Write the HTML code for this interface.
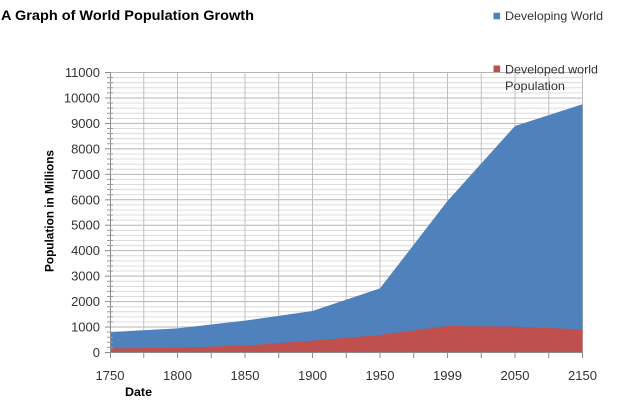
<!DOCTYPE html>
<html><head><meta charset="utf-8"><style>
html,body{margin:0;padding:0;background:#fff;}
svg{display:block;}
text{font-family:"Liberation Sans",sans-serif;}
</style></head><body>
<svg width="618" height="400" viewBox="0 0 618 400" xmlns="http://www.w3.org/2000/svg">
<rect width="618" height="400" fill="#fff"/>
<text x="1" y="20" font-size="14" font-weight="bold" fill="#000" textLength="253" lengthAdjust="spacingAndGlyphs">A Graph of World Population Growth</text>
<g id="minor" stroke="#dcdcdc" stroke-width="1">
<line x1="110" x2="582.5" y1="347.41" y2="347.41"/><line x1="110" x2="582.5" y1="342.32" y2="342.32"/><line x1="110" x2="582.5" y1="337.23" y2="337.23"/><line x1="110" x2="582.5" y1="332.14" y2="332.14"/>
<line x1="110" x2="582.5" y1="321.96" y2="321.96"/><line x1="110" x2="582.5" y1="316.87" y2="316.87"/><line x1="110" x2="582.5" y1="311.78" y2="311.78"/><line x1="110" x2="582.5" y1="306.69" y2="306.69"/>
<line x1="110" x2="582.5" y1="296.50" y2="296.50"/><line x1="110" x2="582.5" y1="291.41" y2="291.41"/><line x1="110" x2="582.5" y1="286.32" y2="286.32"/><line x1="110" x2="582.5" y1="281.23" y2="281.23"/>
<line x1="110" x2="582.5" y1="271.05" y2="271.05"/><line x1="110" x2="582.5" y1="265.96" y2="265.96"/><line x1="110" x2="582.5" y1="260.87" y2="260.87"/><line x1="110" x2="582.5" y1="255.78" y2="255.78"/>
<line x1="110" x2="582.5" y1="245.59" y2="245.59"/><line x1="110" x2="582.5" y1="240.50" y2="240.50"/><line x1="110" x2="582.5" y1="235.41" y2="235.41"/><line x1="110" x2="582.5" y1="230.32" y2="230.32"/>
<line x1="110" x2="582.5" y1="220.14" y2="220.14"/><line x1="110" x2="582.5" y1="215.05" y2="215.05"/><line x1="110" x2="582.5" y1="209.96" y2="209.96"/><line x1="110" x2="582.5" y1="204.87" y2="204.87"/>
<line x1="110" x2="582.5" y1="194.68" y2="194.68"/><line x1="110" x2="582.5" y1="189.59" y2="189.59"/><line x1="110" x2="582.5" y1="184.50" y2="184.50"/><line x1="110" x2="582.5" y1="179.41" y2="179.41"/>
<line x1="110" x2="582.5" y1="169.23" y2="169.23"/><line x1="110" x2="582.5" y1="164.14" y2="164.14"/><line x1="110" x2="582.5" y1="159.05" y2="159.05"/><line x1="110" x2="582.5" y1="153.96" y2="153.96"/>
<line x1="110" x2="582.5" y1="143.77" y2="143.77"/><line x1="110" x2="582.5" y1="138.68" y2="138.68"/><line x1="110" x2="582.5" y1="133.59" y2="133.59"/><line x1="110" x2="582.5" y1="128.50" y2="128.50"/>
<line x1="110" x2="582.5" y1="118.32" y2="118.32"/><line x1="110" x2="582.5" y1="113.23" y2="113.23"/><line x1="110" x2="582.5" y1="108.14" y2="108.14"/><line x1="110" x2="582.5" y1="103.05" y2="103.05"/>
<line x1="110" x2="582.5" y1="92.86" y2="92.86"/><line x1="110" x2="582.5" y1="87.77" y2="87.77"/><line x1="110" x2="582.5" y1="82.68" y2="82.68"/><line x1="110" x2="582.5" y1="77.59" y2="77.59"/>
</g>
<g stroke="#b4b4b4" stroke-width="1">
<line x1="110" x2="582.5" y1="327.05" y2="327.05"/><line x1="110" x2="582.5" y1="301.59" y2="301.59"/><line x1="110" x2="582.5" y1="276.14" y2="276.14"/><line x1="110" x2="582.5" y1="250.68" y2="250.68"/><line x1="110" x2="582.5" y1="225.23" y2="225.23"/><line x1="110" x2="582.5" y1="199.77" y2="199.77"/><line x1="110" x2="582.5" y1="174.32" y2="174.32"/><line x1="110" x2="582.5" y1="148.86" y2="148.86"/><line x1="110" x2="582.5" y1="123.41" y2="123.41"/><line x1="110" x2="582.5" y1="97.95" y2="97.95"/><line x1="110" x2="582.5" y1="72.5" y2="72.5"/>
</g>
<g stroke="#c0c0c0" stroke-width="1">
<line x1="143.75" x2="143.75" y1="72.5" y2="352.5"/><line x1="177.5" x2="177.5" y1="72.5" y2="352.5"/><line x1="211.25" x2="211.25" y1="72.5" y2="352.5"/><line x1="245" x2="245" y1="72.5" y2="352.5"/><line x1="278.75" x2="278.75" y1="72.5" y2="352.5"/><line x1="312.5" x2="312.5" y1="72.5" y2="352.5"/><line x1="346.25" x2="346.25" y1="72.5" y2="352.5"/><line x1="380" x2="380" y1="72.5" y2="352.5"/><line x1="413.75" x2="413.75" y1="72.5" y2="352.5"/><line x1="447.5" x2="447.5" y1="72.5" y2="352.5"/><line x1="481.25" x2="481.25" y1="72.5" y2="352.5"/><line x1="515" x2="515" y1="72.5" y2="352.5"/><line x1="548.75" x2="548.75" y1="72.5" y2="352.5"/><line x1="582.5" x2="582.5" y1="72.5" y2="352.5"/>
</g>
<polygon fill="#4f81bd" points="110,332.14 177.5,328.32 245,320.68 312.5,311.01 380,288.35 447.5,201.04 515,125.95 582.5,104.31 582.5,352.5 110,352.5"/>
<polygon fill="#c0504d" points="110,348.43 177.5,347.66 245,345.63 312.5,340.66 380,334.94 447.5,326.03 515,326.66 582.5,329.34 582.5,352.5 110,352.5"/>
<g stroke="#8c8c8c" stroke-width="1">
<line x1="110.5" x2="110.5" y1="72" y2="353"/>
<line x1="110" x2="583" y1="352.5" y2="352.5"/>
</g>
<g stroke="#9a9a9a" stroke-width="1">
<line x1="107" x2="113" y1="347.41" y2="347.41"/><line x1="107" x2="113" y1="342.32" y2="342.32"/><line x1="107" x2="113" y1="337.23" y2="337.23"/><line x1="107" x2="113" y1="332.14" y2="332.14"/>
<line x1="107" x2="113" y1="321.96" y2="321.96"/><line x1="107" x2="113" y1="316.87" y2="316.87"/><line x1="107" x2="113" y1="311.78" y2="311.78"/><line x1="107" x2="113" y1="306.69" y2="306.69"/>
<line x1="107" x2="113" y1="296.50" y2="296.50"/><line x1="107" x2="113" y1="291.41" y2="291.41"/><line x1="107" x2="113" y1="286.32" y2="286.32"/><line x1="107" x2="113" y1="281.23" y2="281.23"/>
<line x1="107" x2="113" y1="271.05" y2="271.05"/><line x1="107" x2="113" y1="265.96" y2="265.96"/><line x1="107" x2="113" y1="260.87" y2="260.87"/><line x1="107" x2="113" y1="255.78" y2="255.78"/>
<line x1="107" x2="113" y1="245.59" y2="245.59"/><line x1="107" x2="113" y1="240.50" y2="240.50"/><line x1="107" x2="113" y1="235.41" y2="235.41"/><line x1="107" x2="113" y1="230.32" y2="230.32"/>
<line x1="107" x2="113" y1="220.14" y2="220.14"/><line x1="107" x2="113" y1="215.05" y2="215.05"/><line x1="107" x2="113" y1="209.96" y2="209.96"/><line x1="107" x2="113" y1="204.87" y2="204.87"/>
<line x1="107" x2="113" y1="194.68" y2="194.68"/><line x1="107" x2="113" y1="189.59" y2="189.59"/><line x1="107" x2="113" y1="184.50" y2="184.50"/><line x1="107" x2="113" y1="179.41" y2="179.41"/>
<line x1="107" x2="113" y1="169.23" y2="169.23"/><line x1="107" x2="113" y1="164.14" y2="164.14"/><line x1="107" x2="113" y1="159.05" y2="159.05"/><line x1="107" x2="113" y1="153.96" y2="153.96"/>
<line x1="107" x2="113" y1="143.77" y2="143.77"/><line x1="107" x2="113" y1="138.68" y2="138.68"/><line x1="107" x2="113" y1="133.59" y2="133.59"/><line x1="107" x2="113" y1="128.50" y2="128.50"/>
<line x1="107" x2="113" y1="118.32" y2="118.32"/><line x1="107" x2="113" y1="113.23" y2="113.23"/><line x1="107" x2="113" y1="108.14" y2="108.14"/><line x1="107" x2="113" y1="103.05" y2="103.05"/>
<line x1="107" x2="113" y1="92.86" y2="92.86"/><line x1="107" x2="113" y1="87.77" y2="87.77"/><line x1="107" x2="113" y1="82.68" y2="82.68"/><line x1="107" x2="113" y1="77.59" y2="77.59"/>
</g>
<g stroke="#8c8c8c" stroke-width="1">
<line x1="105" x2="110" y1="352.5" y2="352.5"/><line x1="105" x2="110" y1="327.05" y2="327.05"/><line x1="105" x2="110" y1="301.59" y2="301.59"/><line x1="105" x2="110" y1="276.14" y2="276.14"/><line x1="105" x2="110" y1="250.68" y2="250.68"/><line x1="105" x2="110" y1="225.23" y2="225.23"/><line x1="105" x2="110" y1="199.77" y2="199.77"/><line x1="105" x2="110" y1="174.32" y2="174.32"/><line x1="105" x2="110" y1="148.86" y2="148.86"/><line x1="105" x2="110" y1="123.41" y2="123.41"/><line x1="105" x2="110" y1="97.95" y2="97.95"/><line x1="105" x2="110" y1="72.5" y2="72.5"/>
<line x1="110.5" x2="110.5" y1="352.5" y2="358"/><line x1="143.75" x2="143.75" y1="352.5" y2="358"/><line x1="177.5" x2="177.5" y1="352.5" y2="358"/><line x1="211.25" x2="211.25" y1="352.5" y2="358"/><line x1="245" x2="245" y1="352.5" y2="358"/><line x1="278.75" x2="278.75" y1="352.5" y2="358"/><line x1="312.5" x2="312.5" y1="352.5" y2="358"/><line x1="346.25" x2="346.25" y1="352.5" y2="358"/><line x1="380" x2="380" y1="352.5" y2="358"/><line x1="413.75" x2="413.75" y1="352.5" y2="358"/><line x1="447.5" x2="447.5" y1="352.5" y2="358"/><line x1="481.25" x2="481.25" y1="352.5" y2="358"/><line x1="515" x2="515" y1="352.5" y2="358"/><line x1="548.75" x2="548.75" y1="352.5" y2="358"/><line x1="582.5" x2="582.5" y1="352.5" y2="358"/>
</g>
<g font-size="13" fill="#333" text-anchor="end">
<text x="100" y="357">0</text><text x="100" y="331.5">1000</text><text x="100" y="306">2000</text><text x="100" y="280.6">3000</text><text x="100" y="255.2">4000</text><text x="100" y="229.7">5000</text><text x="100" y="204.3">6000</text><text x="100" y="178.8">7000</text><text x="100" y="153.4">8000</text><text x="100" y="127.9">9000</text><text x="100" y="102.5">10000</text><text x="100" y="77">11000</text>
</g>
<g font-size="13" fill="#333" text-anchor="middle">
<text x="110" y="380">1750</text><text x="177.5" y="380">1800</text><text x="245" y="380">1850</text><text x="312.5" y="380">1900</text><text x="380" y="380">1950</text><text x="447.5" y="380">1999</text><text x="515" y="380">2050</text><text x="582.5" y="380">2150</text>
</g>
<text x="125" y="396" font-size="12" font-weight="bold" fill="#000" textLength="27" lengthAdjust="spacingAndGlyphs">Date</text>
<text transform="translate(53.5,211) rotate(-90)" x="0" y="0" text-anchor="middle" font-size="12" font-weight="bold" fill="#000" textLength="122" lengthAdjust="spacingAndGlyphs">Population in Millions</text>
<rect x="493.5" y="12.7" width="6.6" height="6.6" fill="#4f81bd"/>
<text x="505" y="20" font-size="12" fill="#333" textLength="98" lengthAdjust="spacingAndGlyphs">Developing World</text>
<rect x="493.5" y="65.5" width="6.6" height="6.6" fill="#c0504d"/>
<text x="505" y="73.5" font-size="12" fill="#333" textLength="93" lengthAdjust="spacingAndGlyphs">Developed world</text>
<text x="505" y="90" font-size="12" fill="#333" textLength="60" lengthAdjust="spacingAndGlyphs">Population</text>
</svg>
</body></html>
